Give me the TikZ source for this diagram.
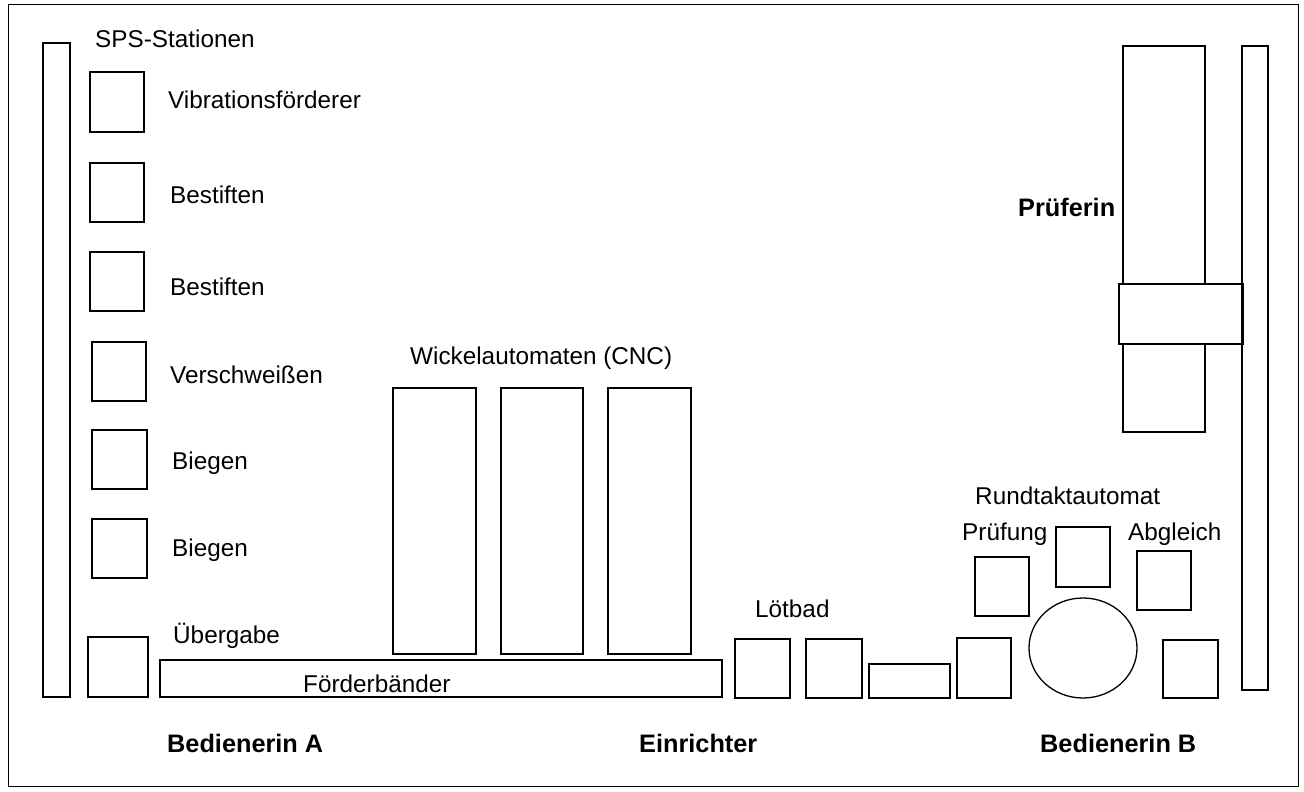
\documentclass[tikz,border=0pt]{standalone}
\usepackage{fontspec}
\setmainfont{Liberation Sans}
\begin{document}
\begin{tikzpicture}[x=1pt,y=-1pt,
  part/.style={draw=black,line width=1.3pt},
  lbl/.style={anchor=base west,inner sep=0pt,font=\fontsize{24.3}{28}\selectfont},
  role/.style={anchor=base west,inner sep=0pt,font=\fontsize{25.3}{30}\selectfont\bfseries}]
\useasboundingbox (0,0) rectangle (1304,792);
% frame
\draw[line width=1pt] (8,5) rectangle (1298,786);

% left side: SPS stations
\draw[part] (43,43) rectangle (70,697);
\node[lbl] (sps) at (95,48) {SPS-Stationen};
\draw[part] (90,72) rectangle (144,132);
\node[lbl] (vib) at (168,108) {Vibrationsförderer};
\draw[part] (90,163) rectangle (144,222);
\node[lbl] (best1) at (170,203) {Bestiften};
\draw[part] (90,252) rectangle (144,311);
\node[lbl] (best2) at (170,295) {Bestiften};
\draw[part] (92,342) rectangle (146,401);
\node[lbl] (schw) at (170,383) {Verschweißen};
\draw[part] (92,430) rectangle (147,489);
\node[lbl] (bieg1) at (172,469) {Biegen};
\draw[part] (92,519) rectangle (147,578);
\node[lbl] (bieg2) at (172,556) {Biegen};
\draw[part] (88,637) rectangle (148,697);
\node[lbl] (ueb) at (173,643) {Übergabe};

% conveyor
\draw[part] (160,660) rectangle (722,697);
\node[lbl] (foerd) at (303,692) {Förderbänder};

% winding machines
\node[lbl] (wick) at (410,364) {Wickelautomaten (CNC)};
\draw[part] (393,388) rectangle (476,654);
\draw[part] (501,388) rectangle (583,654);
\draw[part] (608,388) rectangle (691,654);

% soldering bath
\node[lbl] (loet) at (755,617) {Lötbad};
\draw[part] (735,639) rectangle (790,698);
\draw[part] (806,639) rectangle (862,698);
\draw[part] (869,664) rectangle (950,698);
\draw[part] (957,638) rectangle (1011,698);

% rotary indexing machine
\node[lbl] (rund) at (975,504) {Rundtaktautomat};
\node[lbl] (pruef) at (962,540) {Prüfung};
\node[lbl] (abgl) at (1128,540) {Abgleich};
\draw[part] (975,557) rectangle (1029,616);
\draw[part] (1056,527) rectangle (1110,587);
\draw[part] (1137,551) rectangle (1191,610);
\draw[part] (1083,648) ellipse [x radius=54pt, y radius=50pt];
\draw[part] (1163,640) rectangle (1218,698);

% testing station
\node[role] (prfin) at (1018,216) {Prüferin};
\draw[part] (1123,46) rectangle (1205,432);
\draw[part,fill=white] (1119,284) rectangle (1243,344);
\draw[part] (1242,46) rectangle (1268,690);

% operators
\node[role] (bedA) at (167,752) {Bedienerin A};
\node[role] (einr) at (639,752) {Einrichter};
\node[role] (bedB) at (1040,752) {Bedienerin B};
\end{tikzpicture}
\end{document}
